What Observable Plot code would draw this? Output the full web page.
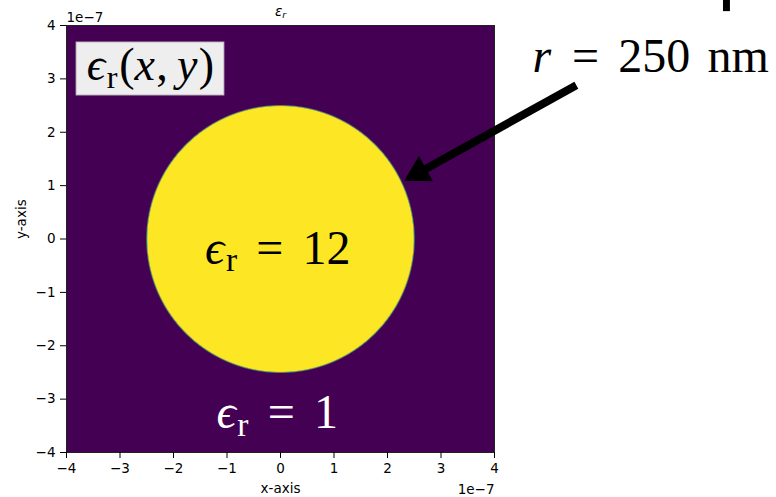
<!DOCTYPE html>
<html>
<head>
<meta charset="utf-8">
<script src="https://cdn.jsdelivr.net/npm/d3@7"></script>
<script src="https://cdn.jsdelivr.net/npm/@observablehq/plot@0.6"></script>
<style>
  body { margin: 0; background: #fff; }
</style>
</head>
<body>
<div id="chart"></div>
<script>
// ---- Data: a dielectric rod in a square simulation cell ----
const cellHalfWidth = 4e-7;                 // m
const rodRadius = 250e-9;                   // m
const epsRod = 12;
const epsBackground = 1;
const tickValues = [-4e-7, -3e-7, -2e-7, -1e-7, 0, 1e-7, 2e-7, 3e-7, 4e-7];
const tickLabels = ["−4", "−3", "−2", "−1", "0", "1", "2", "3", "4"];
const axisExponent = "1e−7";
const titleText = "εr";
const xLabel = "x-axis";
const yLabel = "y-axis";
const mapLabel = "ϵr(x,y)";
const rodLabel = `ϵr = ${epsRod}`;
const backgroundLabel = `ϵr = ${epsBackground}`;
const radiusLabel = `r = ${Math.round(rodRadius * 1e9)} nm`;

// ---- Layout ----
const W = 776, H = 497;
const margin = {top: 25, right: 282, bottom: 45, left: 66};
const frameW = W - margin.left - margin.right;
const frameH = H - margin.top - margin.bottom;
const kx = frameW / (2 * cellHalfWidth);     // px per metre
const ky = frameH / (2 * cellHalfWidth);
const pixel = 2 * cellHalfWidth / frameW;

// annotation anchors, in metres
const mapLabelAt = [-2.43e-7, 2.97e-7];
const mapLabelBox = {x1: -3.81e-7, x2: -1.05e-7, y1: 2.69e-7, y2: 3.68e-7};
const rodLabelAt = [-0.05e-7, -0.46e-7];
const backgroundLabelAt = [-0.06e-7, -3.55e-7];
const radiusLabelAt = [6.92e-7, 3.12e-7];
const arrowTail = [5.53e-7, 2.88e-7];
const arrowTip = [2.31e-7, 1.09e-7];
const cornerMark = {x1: 8.28e-7, x2: 8.41e-7, y1: 4.26e-7, y2: 4.47e-7};

// permittivity map with a one-pixel soft edge at the rod boundary
function permittivity(x, y) {
  const inside = Math.min(1, Math.max(0, (rodRadius - Math.hypot(x, y)) / pixel + 0.5));
  return epsBackground + (epsRod - epsBackground) * inside;
}

// filled arrow head (triangle symbol) pointing from tail to tip
const dxPx = (arrowTip[0] - arrowTail[0]) * kx;
const dyPx = -(arrowTip[1] - arrowTail[1]) * ky;
const len = Math.hypot(dxPx, dyPx), ux = dxPx / len, uy = dyPx / len;
const headLength = 25;
const shaftEnd = [arrowTip[0] - (headLength - 3) * ux / kx, arrowTip[1] + (headLength - 3) * uy / ky];
const headCenter = [arrowTip[0] - (2 / 3) * headLength * ux / kx, arrowTip[1] + (2 / 3) * headLength * uy / ky];
const headRotate = Math.atan2(dyPx, dxPx) * 180 / Math.PI + 90;
const headR = Math.sqrt(Math.sqrt(3) * headLength * headLength / 3 / Math.PI);

const tickFormat = d => tickLabels[tickValues.indexOf(d)];
const mathFont = "Liberation Serif";
const sansFont = "DejaVu Sans";

const mathText = (label, at, size, color) =>
  Plot.text([label], {x: [at[0]], y: [at[1]], fontFamily: mathFont, fontSize: size,
    fill: color, lineAnchor: "bottom"});

const chart = Plot.plot({
  width: W, height: H,
  marginTop: margin.top, marginRight: margin.right,
  marginBottom: margin.bottom, marginLeft: margin.left,
  x: {domain: [-cellHalfWidth, cellHalfWidth]},
  y: {domain: [-cellHalfWidth, cellHalfWidth]},
  color: {type: "linear", scheme: "viridis", domain: [epsBackground, epsRod]},
  style: {fontFamily: sansFont, fontSize: "13.5px", color: "black", background: "white"},
  marks: [
    Plot.raster({fill: permittivity, x1: -cellHalfWidth, x2: cellHalfWidth,
      y1: -cellHalfWidth, y2: cellHalfWidth, pixelSize: 1}),
    Plot.frame({stroke: "#222", strokeWidth: 1}),
    Plot.axisX(tickValues, {anchor: "bottom", tickFormat, tickSize: 6, tickPadding: 5, label: null}),
    Plot.axisY(tickValues, {anchor: "left", tickFormat, tickSize: 6, tickPadding: 5, label: null}),
    Plot.rect([mapLabelBox], {x1: "x1", x2: "x2", y1: "y1", y2: "y2",
      fill: "#eeeeee", stroke: "#cccccc", strokeWidth: 1}),
    mathText(mapLabel, mapLabelAt, 46, "black"),
    mathText(rodLabel, rodLabelAt, 48, "black"),
    mathText(backgroundLabel, backgroundLabelAt, 48, "white"),
    mathText(radiusLabel, radiusLabelAt, 48, "black"),
    Plot.link([0], {x1: [arrowTail[0]], y1: [arrowTail[1]], x2: [shaftEnd[0]], y2: [shaftEnd[1]],
      stroke: "black", strokeWidth: 8}),
    Plot.dot([0], {x: [headCenter[0]], y: [headCenter[1]], symbol: "triangle",
      r: headR, rotate: headRotate, fill: "black", stroke: "none"}),
    Plot.rect([cornerMark], {x1: "x1", x2: "x2", y1: "y1", y2: "y2", fill: "black"}),
    Plot.text([titleText], {frameAnchor: "top", lineAnchor: "bottom", dy: -10,
      fontFamily: sansFont, fontSize: 13.5}),
    Plot.text([axisExponent], {frameAnchor: "top-left", textAnchor: "start", lineAnchor: "bottom", dy: -4}),
    Plot.text([axisExponent], {frameAnchor: "bottom-right", textAnchor: "end", lineAnchor: "bottom", dy: 41}),
    Plot.text([xLabel], {frameAnchor: "bottom", lineAnchor: "bottom", dy: 40}),
    Plot.text([yLabel], {frameAnchor: "left", rotate: -90, dx: -45})
  ]
});

document.getElementById("chart").appendChild(chart);

// TeX-like typesetting: italic variables, upright subscript r, spaced relations
const relGap = 0.4, wordGap = 0.36, thinGap = 0.2, subShift = 0.16, subScale = 0.7;
function typeset(node, subItalic) {
  const str = node.textContent;
  const size = parseFloat(getComputedStyle(node).fontSize);
  const atoms = [];
  let gap = 0;
  for (const tok of str.match(/[ϵε]r|\s*=\s*|nm|\s+|./gu)) {
    if (/^[ϵε]r$/u.test(tok)) {
      atoms.push({t: tok[0], italic: true, dx: gap});
      atoms.push({t: "r", italic: subItalic, sub: true, dx: subItalic ? 0 : 0.03 * size});
      gap = 0;
    } else if (tok.trim() === "=") {
      atoms.push({t: "=", dx: gap + relGap * size});
      gap = relGap * size;
    } else if (/^\s+$/.test(tok)) {
      gap += wordGap * size;
    } else if (tok === ",") {
      atoms.push({t: ",", dx: gap});
      gap = thinGap * size;
    } else if (tok === "nm" || /[0-9()]/.test(tok)) {
      atoms.push({t: tok, dx: gap + (tok === "(" ? 0.04 * size : 0)});
      gap = 0;
    } else {
      atoms.push({t: tok, italic: true, dx: gap});
      gap = 0.03 * size;
    }
  }
  node.textContent = "";
  let shift = 0;
  for (const a of atoms) {
    const target = a.sub ? subShift * size : 0;
    const s = d3.select(node).append("tspan").text(a.t)
      .attr("font-style", a.italic ? "italic" : "normal");
    if (a.dx) s.attr("dx", a.dx);
    if (target !== shift) { s.attr("dy", target - shift); shift = target; }
    if (a.sub) s.attr("font-size", subScale * size);
  }
}
const mathLabels = [mapLabel, rodLabel, backgroundLabel, radiusLabel];
d3.select(chart).selectAll("text").each(function() {
  const s = this.textContent;
  if (mathLabels.includes(s)) typeset(this, false);
  else if (s === titleText) typeset(this, true);
});
</script>
</body>
</html>
